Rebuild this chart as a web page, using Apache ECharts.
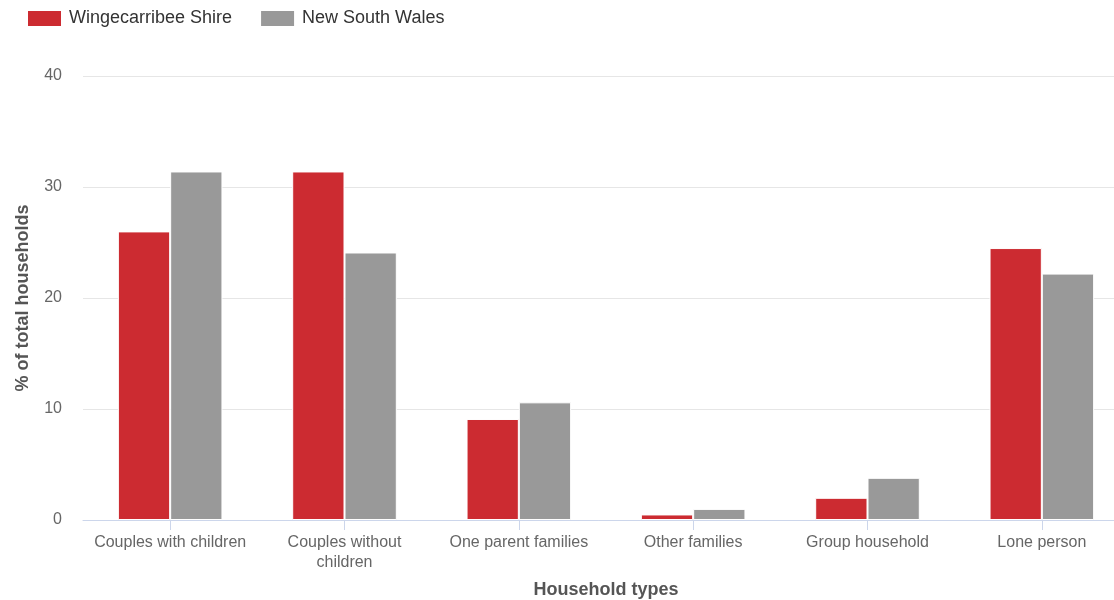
<!DOCTYPE html>
<html><head><meta charset="utf-8">
<script src="https://cdn.jsdelivr.net/npm/echarts@6/dist/echarts.min.js"></script>
<style>html,body{margin:0;padding:0;background:#fff}#c{width:1114px;height:600px}</style>
</head><body><div id="c"></div>
<script>
const categories = ["Couples with children", "Couples without\nchildren", "One parent families", "Other families", "Group household", "Lone person"];
const wingecarribee = [26.0, 31.4, 9.1, 0.5, 2.0, 24.5];
const nsw = [31.4, 24.1, 10.6, 1.0, 3.8, 22.2];
const seriesNames = ["Wingecarribee Shire", "New South Wales"];
const yTicks = [0, 10, 20, 30, 40];

const chart = echarts.init(document.getElementById('c'), null, {renderer: 'canvas'});
chart.setOption({
  animation: false,
  textStyle: {fontFamily: 'Arial, "Liberation Sans", sans-serif'},
  legend: {
    left: 21, top: 4, itemWidth: 35, itemHeight: 17, itemGap: 27,
    icon: 'rect',
    textStyle: {fontSize: 18, color: '#333', padding: [0, 0, 0, 2], fontFamily: 'Arial, "Liberation Sans", sans-serif'},
    data: seriesNames
  },
  grid: {left: 83, top: 76, bottom: 80, right: -15, outerBoundsMode: 'none', containLabel: false},
  xAxis: {
    type: 'category', data: categories,
    name: 'Household types', nameLocation: 'middle', nameGap: 61,
    nameTextStyle: {fontSize: 18, fontWeight: 'bold', color: '#555'},
    axisLine: {lineStyle: {color: '#ccd6eb'}},
    axisTick: {show: true, alignWithLabel: true, length: 10, lineStyle: {color: '#ccd6eb'}},
    axisLabel: {fontSize: 16, color: '#666', margin: 13, lineHeight: 20, interval: 0}
  },
  yAxis: {
    type: 'value', min: yTicks[0], max: yTicks[yTicks.length-1], interval: 10,
    name: '% of total households', nameLocation: 'middle', nameGap: 51, nameRotate: 90,
    nameTextStyle: {fontSize: 18, fontWeight: 'bold', color: '#555'},
    axisLine: {show: false}, axisTick: {show: false},
    axisLabel: {fontSize: 16, color: '#666', margin: 21},
    splitLine: {lineStyle: {color: '#e6e6e6'}}
  },
  series: [
    {name: seriesNames[0], type: 'bar', data: wingecarribee, barGap: '0%', barCategoryGap: '40%',
     itemStyle: {color: '#cc2b31', borderColor: '#ffffff', borderWidth: 1}},
    {name: seriesNames[1], type: 'bar', data: nsw,
     itemStyle: {color: '#999999', borderColor: '#ffffff', borderWidth: 1}}
  ]
});
</script></body></html>
